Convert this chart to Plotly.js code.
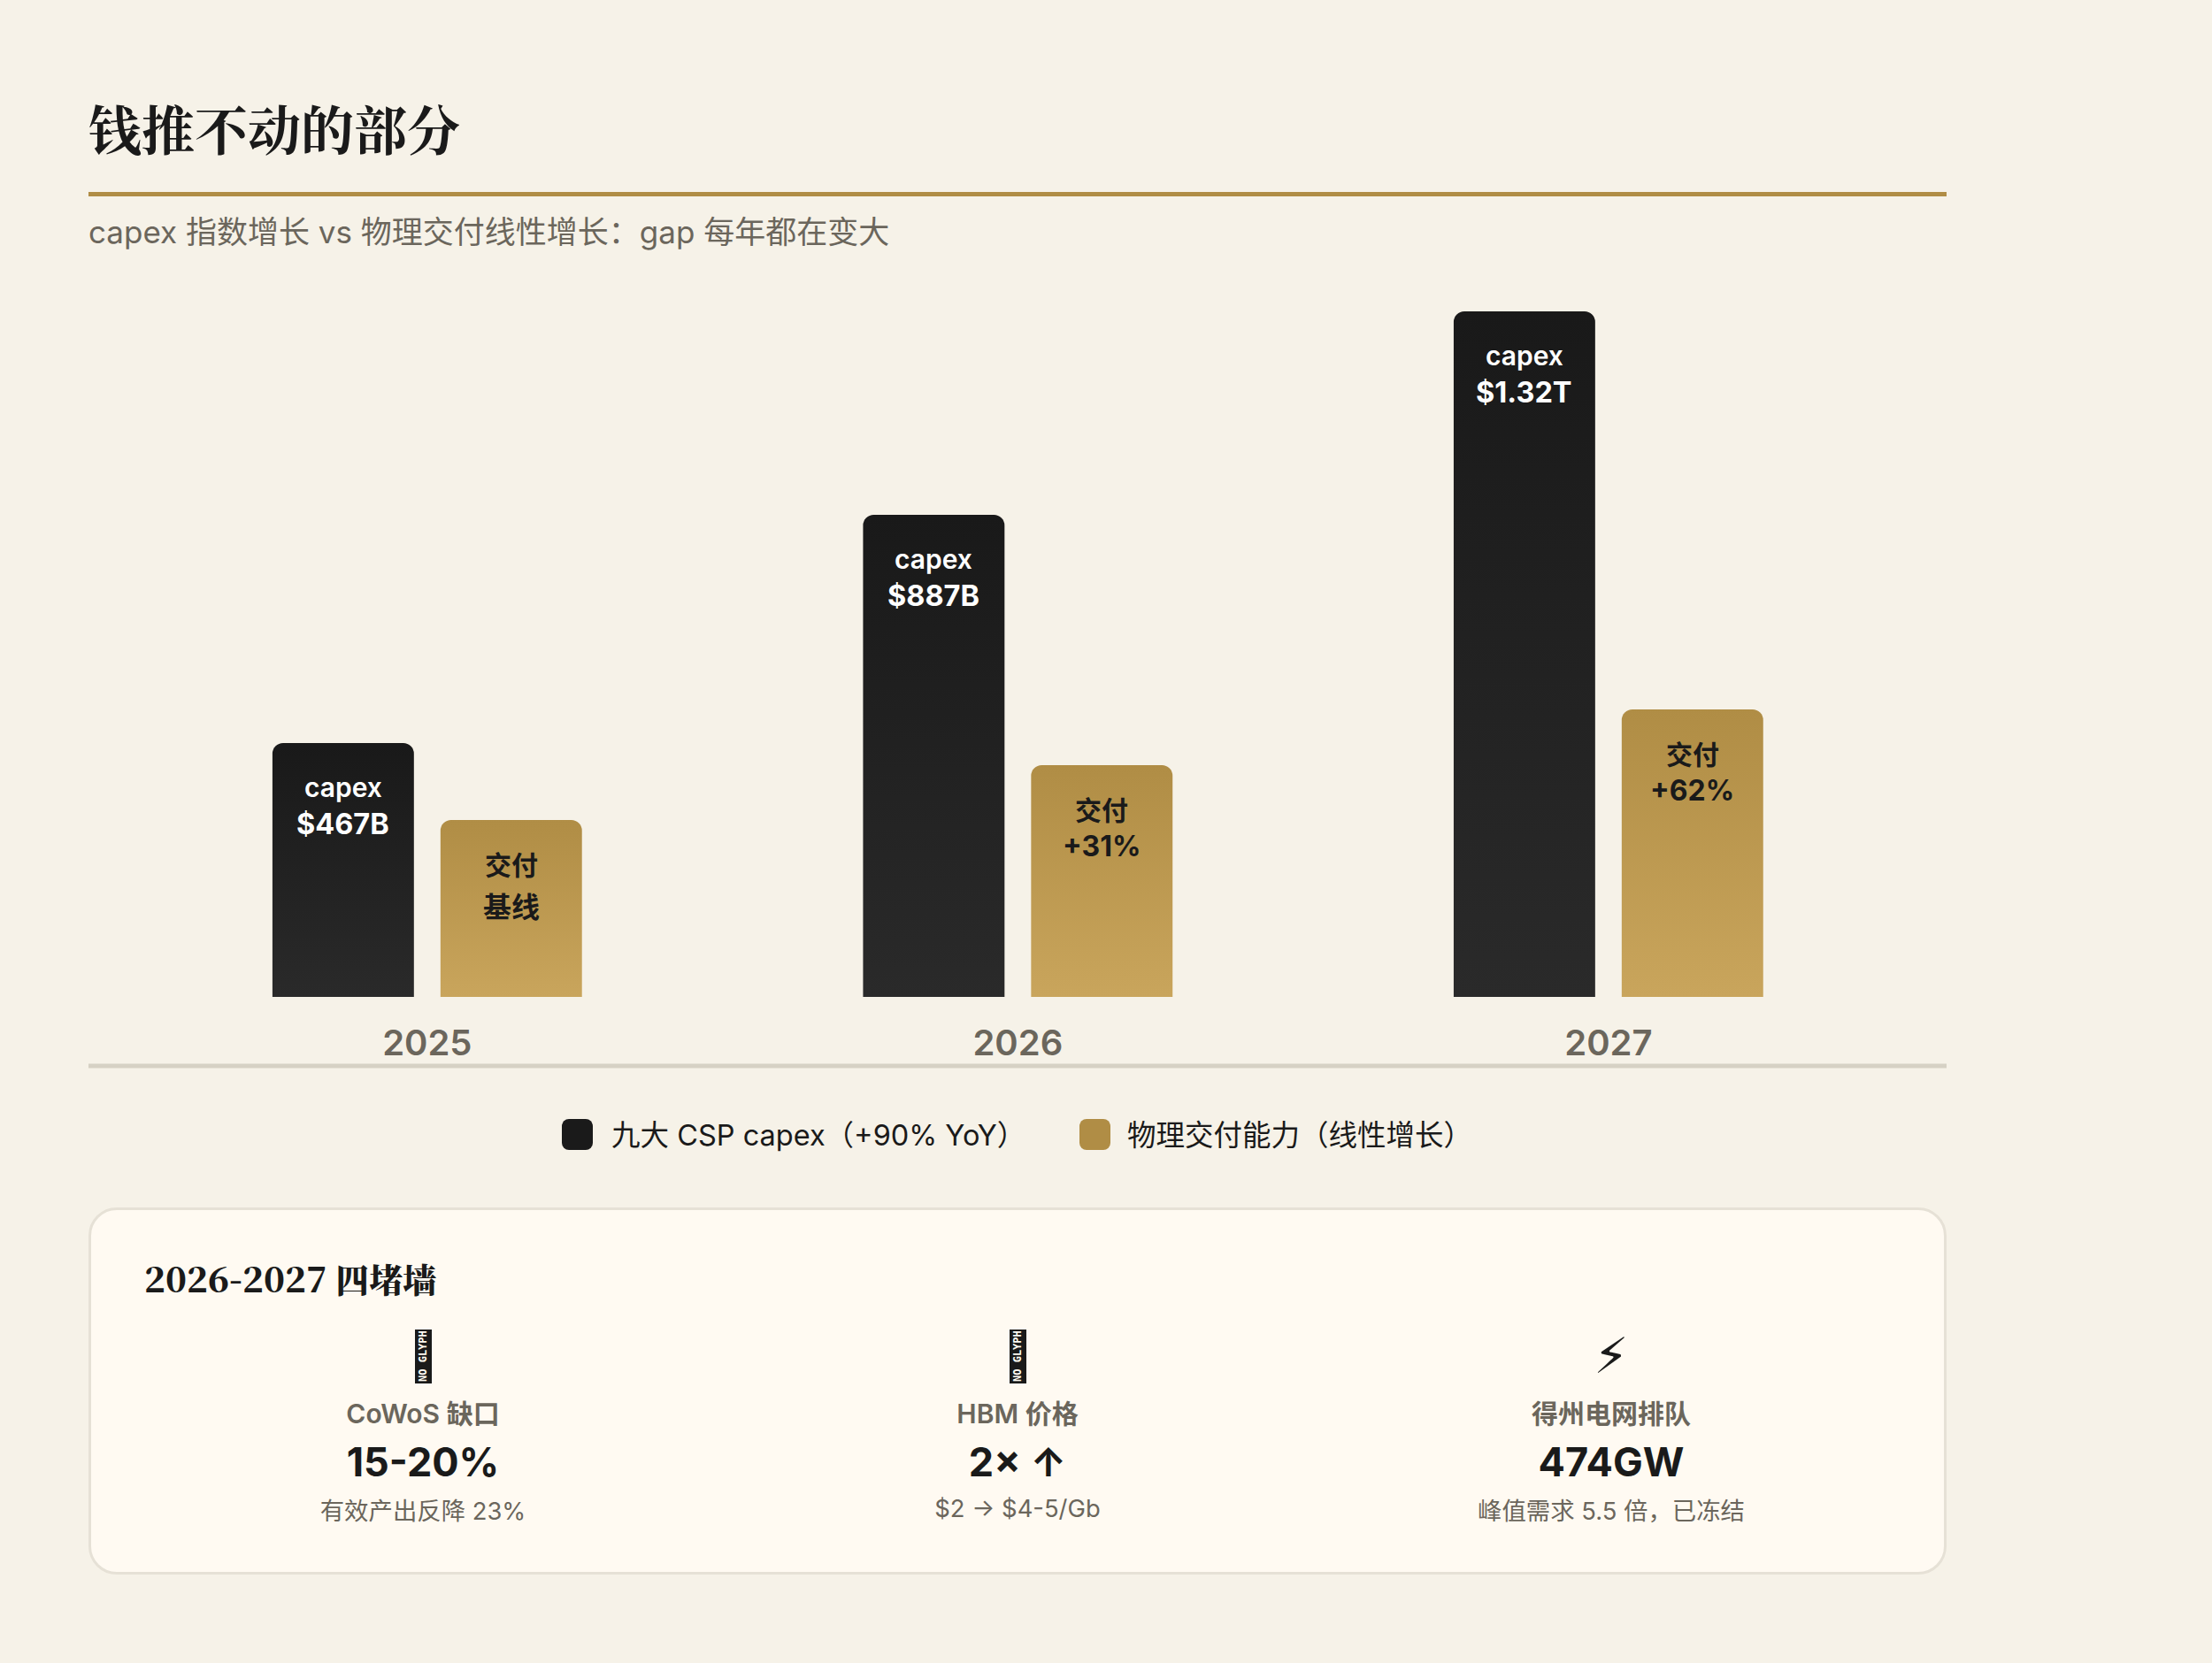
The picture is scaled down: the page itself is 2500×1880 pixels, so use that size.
<!DOCTYPE html>
<html lang="zh">
<head>
<meta charset="utf-8">
<script src="https://cdn.plot.ly/plotly-3.0.1.min.js"></script>
<style>
  html, body { margin: 0; padding: 0; background: #f6f2e8; }
  body { width: 2500px; height: 1880px; position: relative; overflow: hidden;
         font-family: Inter, "Noto Sans CJK SC", sans-serif; color: #1a1a1a; }
  #chart { position: absolute; left: 0; top: 0; }
  .legend-item { position: absolute; top: 1266px; height: 35px; line-height: 35px; font-size: 32.5px; white-space: nowrap; }
  .swatch { position: absolute; top: 1265px; width: 35px; height: 35px; border-radius: 8px; }
  #card { position: absolute; left: 100px; top: 1365px; width: 2094px; height: 409px;
          background: #fffaf2; border: 3px solid #e6e1d6; border-radius: 32px; }
  #card-title { position: absolute; left: 163px; top: 1419px; font-size: 38px; font-weight: 900; line-height: 50px;
                font-family: "Noto Serif CJK SC", "Noto Serif SC", "Source Han Serif SC", "Liberation Serif", serif; }
  #card-title span { font-size: 39.2px; }
  .wall { position: absolute; width: 640px; text-align: center; white-space: nowrap; }
  .wall-label { font-size: 30px; font-weight: 600; color: #6b665c; line-height: 40px; }
  .wall-value { font-size: 45px; font-weight: 700; color: #1a1a1a; line-height: 60px; }
  .wall-note { font-size: 27.4px; color: #6b665c; line-height: 40px; }
  .wall-bolt { font-family: "DejaVu Sans", sans-serif; font-size: 56px; line-height: 60px; color: #1a1a1a; }
  .no-glyph { position: absolute; width: 19px; height: 61px; background: #1a1a1a; color: #fffaf2;
              font: 700 12px/19px "DejaVu Sans Mono", monospace; text-align: center;
              writing-mode: vertical-rl; transform: rotate(180deg); white-space: nowrap; overflow: hidden; }
</style>
</head>
<body>
<div id="chart"></div>
<div id="legend"></div>
<div id="card"></div>
<div id="card-title"><span>2026-2027</span> 四堵墙</div>
<div id="walls"></div>
<script>
// chart values
const years          = ['2025', '2026', '2027'];
const capexHeights   = [287, 545, 775];   // drawn bar height
const supplyHeights  = [200, 262, 325];
const capexCaptions  = ['capex', 'capex', 'capex'];
const capexLabels    = ['$467B', '$887B', '$1.32T'];
const supplyCaptions = ['交付', '交付', '交付'];
const supplyLabels   = ['基线', '+31%', '+62%'];

const legendNames = ['九大 CSP capex（+90% YoY）', '物理交付能力（线性增长）'];

const wallNames  = ['CoWoS 缺口', 'HBM 价格', '得州电网排队'];
const wallValues = ['15-20%', '2× ↑', '474GW'];
const wallNotes  = ['有效产出反降 23%', '$2 → $4-5/Gb', '峰值需求 5.5 倍，已冻结'];

const INK   = '#1a1a1a';
const GOLD  = '#b08d45';
const MUTED = '#6b665c';
const RULE  = '#d6d1c4';
const FONT  = 'Inter, "Noto Sans CJK SC", sans-serif';
const SERIF = '"Noto Serif CJK SC", "Noto Serif SC", "Source Han Serif SC", "Liberation Serif", serif';

const PLOT_TOP = 300, PLOT_BOTTOM = 1127, PLOT_H = PLOT_BOTTOM - PLOT_TOP;
const paperY = py => (PLOT_BOTTOM - py) / PLOT_H;   // page pixel -> paper fraction

const BAR_SHIFT = 95;   // px from group centre to bar centre

// ── in-bar labels ────────────────────────────────────────────────────────────
function barNotes(heights, shift, topText, bottomText, color, offs, sizes, weights) {
  const out = [];
  years.forEach((yr, i) => {
    [topText[i], bottomText[i]].forEach((txt, k) => {
      // a CJK second line sits lower, its line box is taller
      const extra = (k === 1 && /[\u4e00-\u9fff]/.test(txt)) ? 7 : 0;
      // x is the category index: a string like '2025' is read as a serial number here
      out.push({
        x: i, y: heights[i], xref: 'x', yref: 'y', text: txt, showarrow: false,
        xanchor: 'center', yanchor: 'middle', xshift: shift, yshift: -(offs[k] + extra),
        font: { family: FONT, size: sizes[k], color: color, weight: weights[k] },
      });
    });
  });
  return out;
}

const traces = [
  { type: 'bar', x: years, y: capexHeights, name: legendNames[0], marker: { color: INK, line: { width: 0 } } },
  { type: 'bar', x: years, y: supplyHeights, name: legendNames[1], marker: { color: GOLD, line: { width: 0 } } },
];

const layout = {
  width: 2500, height: 1208,
  paper_bgcolor: 'rgba(0,0,0,0)', plot_bgcolor: 'rgba(0,0,0,0)',
  margin: { l: 100, r: 300, t: PLOT_TOP, b: 1208 - PLOT_BOTTOM, pad: 0 },
  showlegend: false,
  barmode: 'group', bargap: 0.431, bargroupgap: 0.158, barcornerradius: 12,
  font: { family: FONT, color: INK },
  title: {
    text: '钱推不动的部分', x: 100 / 2500, xanchor: 'left', xref: 'container',
    y: 1 - 149 / 1208, yref: 'container', yanchor: 'middle',
    font: { family: SERIF, size: 60, color: INK, weight: 700 },
  },
  xaxis: {
    type: 'category', range: [-0.5735, 2.5725], showgrid: false, zeroline: false, showline: false,
    ticks: '', ticklabelstandoff: 25,
    tickfont: { family: FONT, size: 40, color: MUTED, weight: 600 },
  },
  yaxis: { range: [0, PLOT_H], visible: false, fixedrange: true },
  shapes: [
    { type: 'line', xref: 'paper', yref: 'paper', x0: 0, x1: 1, y0: paperY(219.5), y1: paperY(219.5), line: { color: GOLD, width: 5 } },
    { type: 'line', xref: 'paper', yref: 'paper', x0: 0, x1: 1, y0: paperY(1205), y1: paperY(1205), line: { color: RULE, width: 5 } },
  ],
  annotations: [
    {
      xref: 'paper', yref: 'paper', x: 0, y: paperY(262), xshift: -2, xanchor: 'left', yanchor: 'middle', showarrow: false,
      text: 'capex 指数增长 vs 物理交付线性增长：gap 每年都在变大',
      font: { family: FONT, size: 35, color: MUTED },
    },
    ...barNotes(capexHeights, -BAR_SHIFT, capexCaptions, capexLabels, '#ffffff', [50, 91], [30, 32.5], [600, 700]),
    ...barNotes(supplyHeights, BAR_SHIFT, supplyCaptions, supplyLabels, INK, [51, 91], [30, 32], [700, 700]),
  ],
};

// ── HTML around the chart: legend and card ──────────────────────────────────
function addDiv(parent, cls, style, text) {
  const d = document.createElement('div');
  d.className = cls;
  Object.assign(d.style, style);
  if (text) d.textContent = text;
  parent.appendChild(d);
  return d;
}

const legendEl = document.getElementById('legend');
[[635, 691, INK], [1220, 1274, GOLD]].forEach((pos, i) => {
  addDiv(legendEl, 'swatch', { left: pos[0] + 'px', background: pos[2] });
  addDiv(legendEl, 'legend-item', { left: pos[1] + 'px' }, legendNames[i]);
});

const wallsEl = document.getElementById('walls');
const wallCentres = [478, 1150, 1821];
const noteTops = [1688, 1685, 1688];   // the $ line sits a little higher, it has no CJK in it
wallNames.forEach((name, i) => {
  const left = (wallCentres[i] - 320) + 'px';
  if (i < 2) addDiv(wallsEl, 'no-glyph', { left: (wallCentres[i] - 9) + 'px', top: '1503px' }, 'NO GLYPH');
  else addDiv(wallsEl, 'wall wall-bolt', { left, top: '1503px' }, '⚡\uFE0E');
  addDiv(wallsEl, 'wall wall-label', { left, top: '1578px' }, name);
  addDiv(wallsEl, 'wall wall-value', { left, top: '1623px' }, wallValues[i]);
  addDiv(wallsEl, 'wall wall-note', { left, top: noteTops[i] + 'px' }, wallNotes[i]);
});

// ── Draw, then swap the flat bar fills for the vertical gradients ───────────
const gd = document.getElementById('chart');
Plotly.newPlot(gd, traces, layout, { staticPlot: true, displayModeBar: false }).then(() => {
  const svg = gd.querySelector('svg.main-svg');
  const NS = 'http://www.w3.org/2000/svg';
  const defs = document.createElementNS(NS, 'defs');
  [['gradInk', '#191919', '#2a2a2a'], ['gradGold', '#b08d45', '#c9a55c']].forEach(g => {
    const lg = document.createElementNS(NS, 'linearGradient');
    lg.setAttribute('id', g[0]);
    lg.setAttribute('x1', 0); lg.setAttribute('y1', 0); lg.setAttribute('x2', 0); lg.setAttribute('y2', 1);
    [[0, g[1]], [1, g[2]]].forEach(s => {
      const st = document.createElementNS(NS, 'stop');
      st.setAttribute('offset', s[0]);
      st.setAttribute('stop-color', s[1]);
      lg.appendChild(st);
    });
    defs.appendChild(lg);
  });
  svg.insertBefore(defs, svg.firstChild);
  gd.querySelectorAll('.trace.bars').forEach((t, i) => {
    t.querySelectorAll('path').forEach(p => { p.style.fill = i === 0 ? 'url(#gradInk)' : 'url(#gradGold)'; });
  });
});
</script>
</body>
</html>
